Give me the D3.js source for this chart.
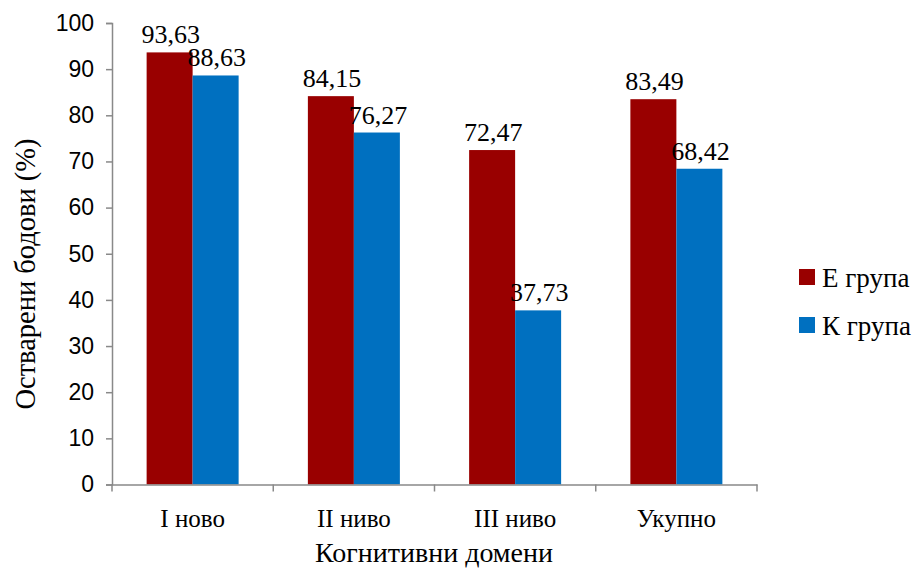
<!DOCTYPE html>
<html>
<head>
<meta charset="utf-8">
<script src="https://cdn.jsdelivr.net/npm/d3@7"></script>
<style>
  html, body { margin: 0; padding: 0; background: #fff; }
  svg { display: block; }
  .serif { font-family: "Liberation Serif", "Times New Roman", "DejaVu Serif", serif; }
  .sans { font-family: "Liberation Sans", Arial, sans-serif; }
</style>
</head>
<body>
<div id="chart"></div>
<script>
// Categories, series and tick values
const categories = ["I ново", "II ниво", "III ниво", "Укупно"];
const seriesNames = ["Е група", "К група"];
const eGroup = [93.63, 84.15, 72.47, 83.49];
const kGroup = [88.63, 76.27, 37.73, 68.42];
const yTicks = [0, 10, 20, 30, 40, 50, 60, 70, 80, 90, 100];
const colors = ["#990000", "#0070C0"];

const width = 918, height = 570;
const plotLeft = 112, plotRight = 757;
const plotTop = 23, plotBottom = 484.5;

const svg = d3.select("#chart").append("svg")
  .attr("width", width).attr("height", height);

const x = d3.scaleBand().domain(categories).range([plotLeft, plotRight]).padding(0);
const y = d3.scaleLinear().domain([0, 100]).range([plotBottom, plotTop]);

const axisColor = "#898989";

// Y axis
const yAxis = svg.append("g")
  .attr("transform", `translate(${plotLeft},0)`)
  .call(d3.axisLeft(y).tickValues(yTicks).tickSize(6).tickPadding(12).tickFormat(d3.format("d")));
yAxis.attr("font-family", null);
yAxis.select(".domain").attr("stroke", axisColor).attr("stroke-width", 1.5);
yAxis.selectAll(".tick line").attr("stroke", axisColor).attr("stroke-width", 1.5);
yAxis.selectAll(".tick text").attr("class", "sans").attr("font-size", 23).attr("fill", "#000");

// Bars, two per category
const rows = categories.map((c, i) => ({ cat: c, values: [eGroup[i], kGroup[i]] }));
const groups = svg.append("g").selectAll("g").data(rows).join("g")
  .attr("transform", d => `translate(${x(d.cat)},0)`);

const barW = 46, offset = (x.bandwidth() - 2 * barW) / 2;
groups.selectAll("rect").data(d => d.values.map((v, j) => ({ v, j }))).join("rect")
  .attr("x", d => offset + d.j * barW)
  .attr("width", barW)
  .attr("y", d => y(d.v))
  .attr("height", d => y(0) - y(d.v))
  .attr("fill", d => colors[d.j]);

// Value labels above the bars
groups.selectAll("text").data(d => d.values.map((v, j) => ({ v, j }))).join("text")
  .attr("class", "serif")
  .attr("x", d => offset + d.j * barW + barW / 2 + 1)
  .attr("y", d => y(d.v) - 9)
  .attr("text-anchor", "middle")
  .attr("font-size", 26)
  .attr("fill", "#000")
  .text(d => d.v.toFixed(2).replace(".", ","));

// X axis
const xAxis = svg.append("g")
  .attr("transform", `translate(0,${plotBottom})`)
  .call(d3.axisBottom(x).tickSize(0).tickPadding(25));
xAxis.attr("font-family", null);
xAxis.select(".domain").attr("stroke", axisColor).attr("stroke-width", 1.5);
xAxis.selectAll(".tick text").attr("class", "serif").attr("font-size", 25).attr("fill", "#000");
// Tick marks at the category boundaries
const bounds = categories.map(c => x(c)).concat([x(categories[categories.length - 1]) + x.bandwidth()]);
xAxis.selectAll(".bound").data(bounds).join("line")
  .attr("class", "bound")
  .attr("x1", d => d).attr("x2", d => d)
  .attr("y1", 0).attr("y2", 7)
  .attr("stroke", axisColor).attr("stroke-width", 1.5);

// Axis titles
svg.append("text")
  .attr("class", "serif")
  .attr("x", 434)
  .attr("y", 562)
  .attr("text-anchor", "middle")
  .attr("font-size", 28).attr("fill", "#000")
  .text("Когнитивни домени");

svg.append("text")
  .attr("class", "serif")
  .attr("transform", "translate(35,274) rotate(-90)")
  .attr("text-anchor", "middle")
  .attr("font-size", 28.5).attr("fill", "#000")
  .text("Остварени бодови (%)");

// Legend
const legend = svg.append("g").selectAll("g").data(seriesNames).join("g")
  .attr("transform", (d, i) => `translate(799,${269 + i * 48})`);
legend.append("rect").attr("width", 16).attr("height", 16).attr("fill", (d, i) => colors[i]);
legend.append("text").attr("class", "serif").attr("x", 23).attr("y", 17.5)
  .attr("font-size", 27).attr("fill", "#000")
  .text(d => d);
</script>
</body>
</html>
